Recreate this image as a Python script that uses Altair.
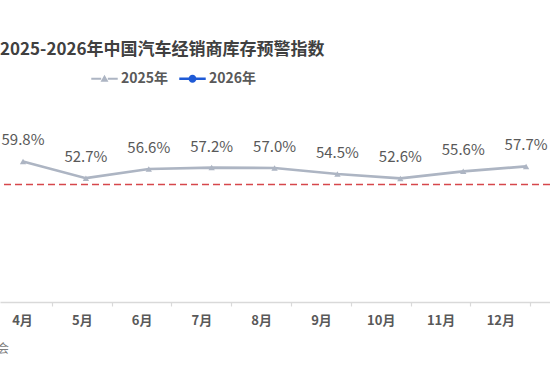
import altair as alt
import pandas as pd

# ---- data ----
months = [4, 5, 6, 7, 8, 9, 10, 11, 12]
index_2025 = [59.8, 52.7, 56.6, 57.2, 57.0, 54.5, 52.6, 55.6, 57.7]
series_names = ["2025年", "2026年"]
warning_level = [50]
tick_marks = [4.5, 5.5, 6.5, 7.5, 8.5, 9.5, 10.5, 11.5, 12.5]
source_text = ["数据来源：中国汽车流通协会"]

FONT = "Noto Sans CJK SC"
LINE_GRAY = "#adb5c3"
BLUE = "#1f5ad6"
TEXT = "#595959"

df = pd.DataFrame({
    "month": months,
    "value": index_2025,
    "series": ["2025年"] * len(months),
    "label": [f"{v:.1f}%" for v in index_2025],
})
axis_df = pd.DataFrame({"month": months})
warn_df = pd.DataFrame({"warn": warning_level})
src_df = pd.DataFrame({"t": source_text})

y_scale = alt.Scale(domain=[0, 80], nice=False, zero=False)
x_line = alt.Scale(domain=[3.634, 12.38], nice=False, zero=False)
x_axis = alt.Scale(domain=[3.632, 12.83], nice=False, zero=False)

# axis with month labels
labels_layer = alt.Chart(axis_df).mark_point(opacity=0).encode(
    x=alt.X("month:Q", scale=x_axis,
            axis=alt.Axis(orient="bottom", values=months, labelExpr="datum.value + '月'",
                          ticks=False, domain=True, domainColor="#d9d9d9", domainWidth=1.5,
                          grid=False, title=None, labelFont=FONT, labelFontSize=13,
                          labelFontWeight="bold", labelColor=TEXT, labelPadding=12,
                          labelOverlap=False, labelFlush=False)),
    y=alt.Y("month:Q", scale=y_scale, axis=None),
)

# axis with the tick marks between months
ticks_layer = alt.Chart(axis_df).mark_point(opacity=0).encode(
    x=alt.X("month:Q", scale=x_axis,
            axis=alt.Axis(orient="bottom", values=tick_marks, labels=False, ticks=True,
                          tickSize=4, tickColor="#d9d9d9", tickWidth=1.2, domain=False,
                          grid=False, title=None)),
    y=alt.Y("month:Q", scale=y_scale, axis=None),
)

warn_layer = alt.Chart(warn_df).mark_rule(
    color="#d6474b", strokeDash=[7, 4], strokeWidth=1.6
).encode(y=alt.Y("warn:Q", scale=y_scale, axis=None))

base = alt.Chart(df).encode(
    x=alt.X("month:Q", scale=x_line, axis=None),
    y=alt.Y("value:Q", scale=y_scale, axis=None),
)

line_layer = base.mark_line(color=LINE_GRAY, strokeWidth=2.6)
point_layer = base.mark_point(shape="triangle-up", filled=True, size=40,
                              color=LINE_GRAY, opacity=1)
text_layer = base.mark_text(font=FONT, fontSize=15, color=TEXT, dy=-21,
                            baseline="middle").encode(text="label:N")

legend_layer = base.mark_point(filled=True, opacity=0).encode(
    color=alt.Color("series:N",
                    scale=alt.Scale(domain=series_names, range=[LINE_GRAY, BLUE]),
                    legend=alt.Legend(
                        title=None, orient="none", direction="horizontal",
                        legendX=91, legendY=-49, symbolOpacity=1, symbolSize=700,
                        symbolStrokeWidth=0, labelFont=FONT, labelFontSize=14,
                        labelFontWeight="bold", labelColor=TEXT, labelOffset=3,
                        columnPadding=10)),
    shape=alt.Shape("series:N",
                    scale=alt.Scale(domain=series_names, range=[
                        "M-1,-0.08L-0.25,-0.08L-0.25,0.08L-1,0.08Z M0.25,-0.08L1,-0.08L1,0.08L0.25,0.08Z M-0.3,0.22L0,-0.3L0.3,0.22Z",
                        "M-1,-0.09L-0.25,-0.09L-0.25,0.09L-1,0.09Z M0.25,-0.09L1,-0.09L1,0.09L0.25,0.09Z M-0.3,0A0.3,0.3 0 1,1 0.3,0A0.3,0.3 0 1,1 -0.3,0Z",
                    ]),
                    legend=None),
)

source_layer = alt.Chart(src_df).mark_text(
    font=FONT, fontSize=12, color="#7f7f7f", align="right", baseline="middle"
).encode(x=alt.value(9), y=alt.value(235), text="t:N")

chart = alt.layer(
    labels_layer, ticks_layer, warn_layer, line_layer, point_layer, text_layer,
    legend_layer, source_layer,
).resolve_scale(x="independent").resolve_axis(x="independent").properties(
    width=550,
    height=188,
    background="white",
    autosize=alt.AutoSizeParams(type="none"),
    padding={"left": 0, "top": 114, "right": 0, "bottom": 76},
    title=alt.TitleParams(
        text="2025-2026年中国汽车经销商库存预警指数", anchor="start", frame="group",
        font=FONT, fontSize=17, fontWeight="bold", color="#404040", offset=-11,
        baseline="bottom",
    ),
).configure_view(stroke=None)

chart.save("out.html", embed_options={"renderer": "svg", "actions": False})
